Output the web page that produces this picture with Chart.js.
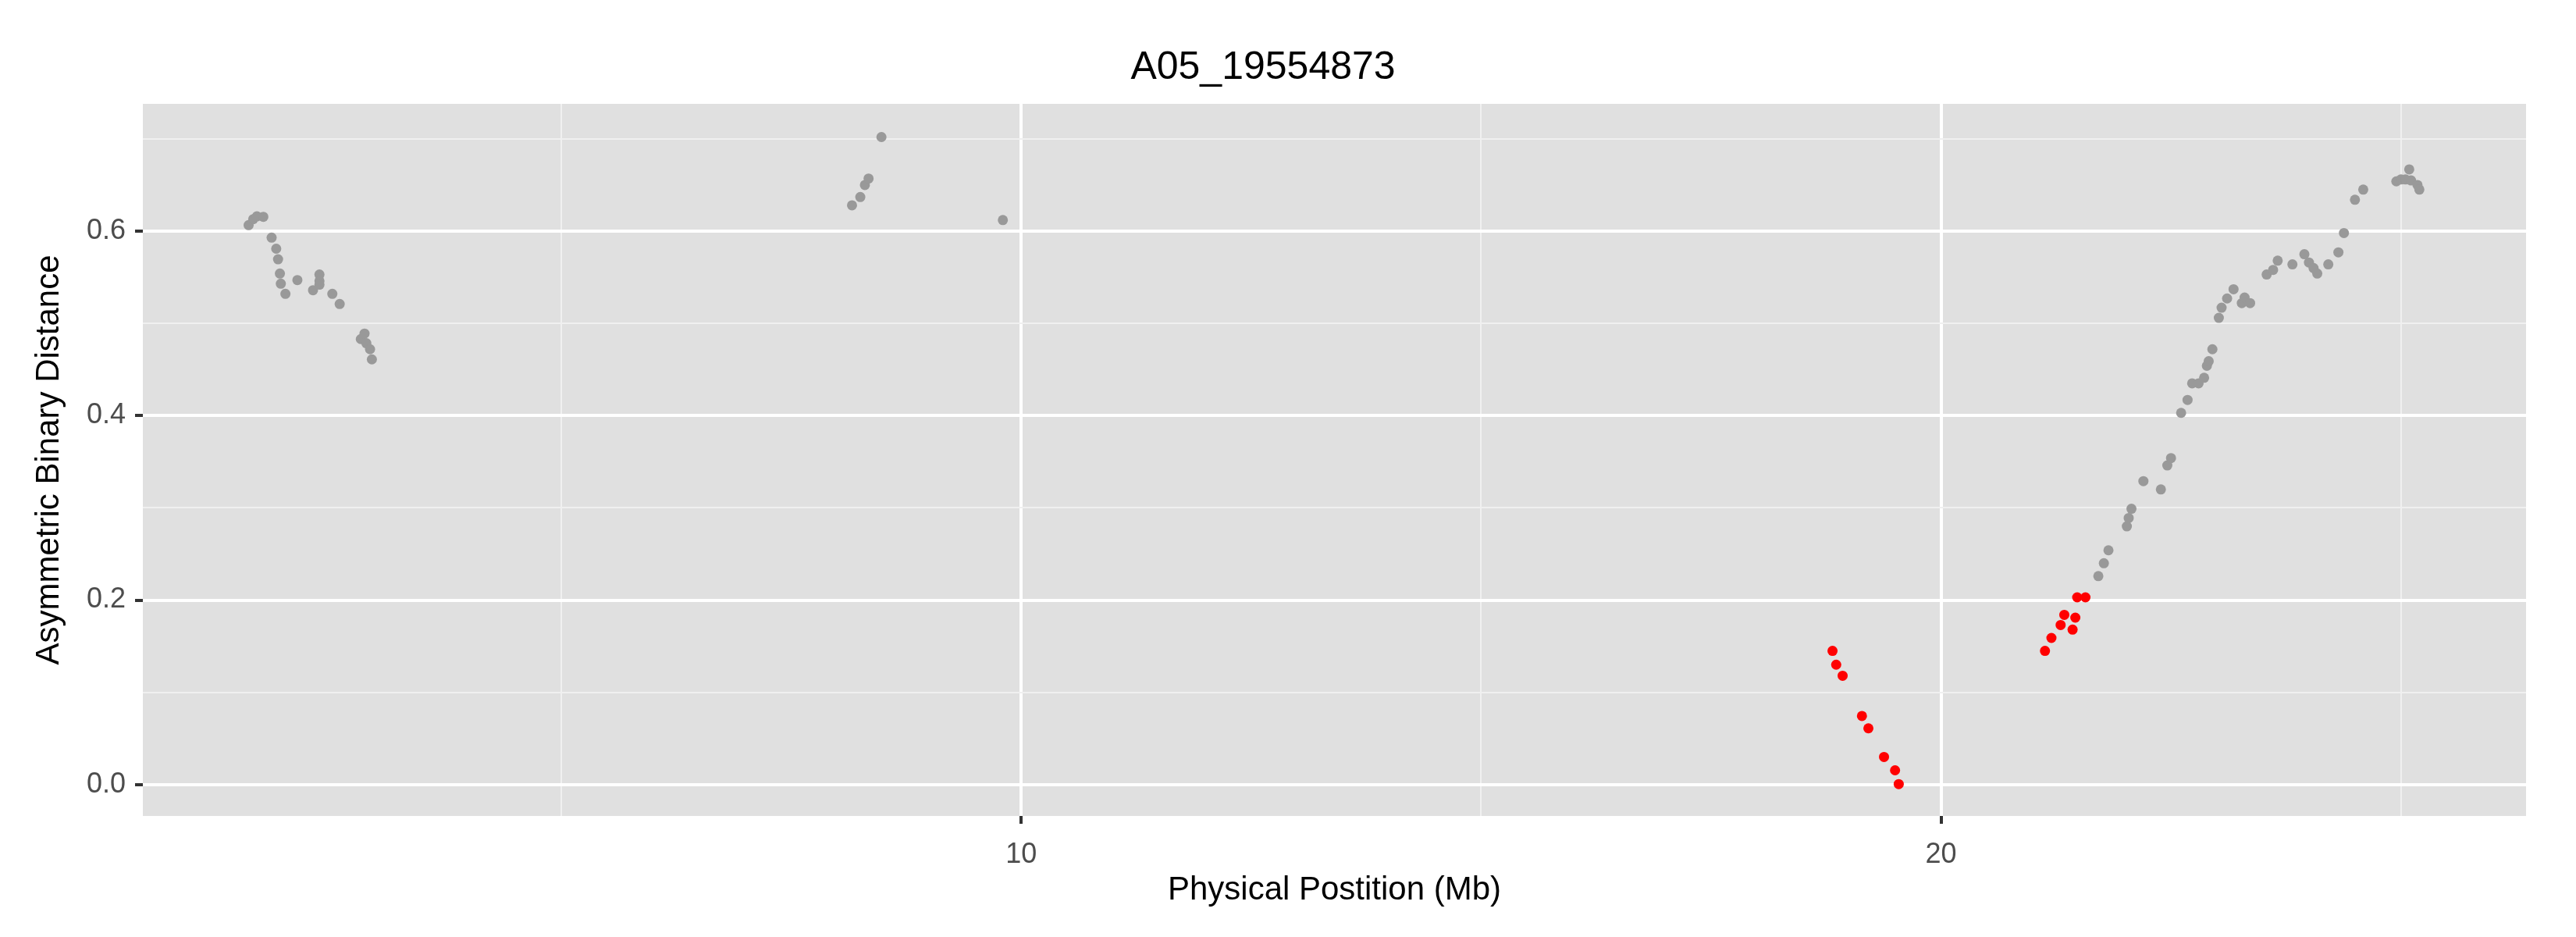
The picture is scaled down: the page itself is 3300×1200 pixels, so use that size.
<!DOCTYPE html>
<html>
<head>
<meta charset="utf-8">
<script src="https://cdn.jsdelivr.net/npm/chart.js@4"></script>
<style>
  html, body { margin: 0; padding: 0; background: #fff; }
  #wrap { width: 3300px; height: 1200px; }
</style>
</head>
<body>
<div id="wrap"><canvas id="chart" width="3300" height="1200"></canvas></div>
<script>
// positions in Mb, distance values
const grayX = [1.60, 1.65, 1.69, 1.76, 1.85, 1.90, 1.92, 1.94, 1.95, 2.00, 2.13, 2.30, 2.37, 2.37, 2.37, 2.51, 2.59, 2.82, 2.86, 2.88, 2.92, 2.94,
  8.16, 8.25, 8.30, 8.34, 8.48, 9.80,
  21.71, 21.77, 21.82, 22.02, 22.04, 22.07, 22.20, 22.39, 22.46, 22.50, 22.61, 22.68, 22.73, 22.80, 22.86, 22.89, 22.91, 22.95,
  23.02, 23.05, 23.11, 23.18, 23.27, 23.30, 23.36, 23.54, 23.61, 23.66, 23.82, 23.95, 24.00, 24.05, 24.09, 24.21, 24.32, 24.38,
  24.50, 24.59, 24.95, 25.00, 25.05, 25.09, 25.11, 25.18, 25.20];
const grayY = [0.6065, 0.613, 0.616, 0.6155, 0.593, 0.581, 0.5695, 0.554, 0.543, 0.532, 0.547, 0.536, 0.553, 0.546, 0.542, 0.532, 0.521, 0.483, 0.489, 0.4785, 0.472, 0.461,
  0.628, 0.637, 0.650, 0.657, 0.702, 0.612,
  0.226, 0.240, 0.254, 0.280, 0.289, 0.299, 0.329, 0.320, 0.346, 0.354, 0.403, 0.417, 0.435, 0.435, 0.441, 0.454, 0.459, 0.472,
  0.506, 0.517, 0.527, 0.537, 0.522, 0.528, 0.522, 0.553, 0.558, 0.568, 0.564, 0.575, 0.566, 0.560, 0.554, 0.564, 0.577, 0.598,
  0.634, 0.645, 0.654, 0.656, 0.656, 0.667, 0.655, 0.650, 0.645];
const redX = [18.82, 18.86, 18.93, 19.14, 19.21, 19.38, 19.50, 19.54,
  21.13, 21.20, 21.30, 21.34, 21.43, 21.46, 21.48, 21.57];
const redY = [0.145, 0.130, 0.118, 0.0744, 0.061, 0.030, 0.0155, 0.0006,
  0.145, 0.159, 0.173, 0.184, 0.168, 0.181, 0.203, 0.203];
const xTicks = [5, 10, 15, 20, 25];
const xLabels = [10, 20];
const yTicks = [0, 0.1, 0.2, 0.3, 0.4, 0.5, 0.6, 0.7];
const yLabels = [0, 0.2, 0.4, 0.6];

const toPoints = (xs, ys) => xs.map((x, i) => ({ x: x, y: ys[i] }));
const isMajor = (list, v) => list.some(t => Math.abs(t - v) < 1e-9);

const panelBg = {
    id: 'panelBg',
    beforeDraw(chart) {
        const a = chart.chartArea;
        const ctx = chart.ctx;
        ctx.save();
        ctx.fillStyle = '#E0E0E0';
        ctx.fillRect(a.left, a.top, a.right - a.left, a.bottom - a.top);
        ctx.restore();
    }
};

new Chart(document.getElementById('chart'), {
    type: 'scatter',
    data: {
        datasets: [
            { data: toPoints(grayX, grayY), backgroundColor: '#999999', borderWidth: 0, pointRadius: 6.5 },
            { data: toPoints(redX, redY), backgroundColor: '#FF0000', borderWidth: 0, pointRadius: 6.5 }
        ]
    },
    options: {
        responsive: false,
        devicePixelRatio: 1,
        animation: false,
        layout: { padding: { left: 0, right: 64, top: 0, bottom: 0 } },
        plugins: {
            legend: { display: false },
            tooltip: { enabled: false },
            title: {
                display: true,
                text: 'A05_19554873',
                color: '#000',
                font: { family: 'Liberation Sans', size: 50, weight: 'normal' },
                padding: { top: 57, bottom: 16 }
            }
        },
        scales: {
            x: {
                type: 'linear',
                min: 0.45,
                max: 26.36,
                afterBuildTicks: scale => { scale.ticks = xTicks.map(v => ({ value: v })); },
                afterFit: scale => { scale.height = 155; },
                border: { display: false },
                grid: {
                    color: ctx => isMajor(xLabels, ctx.tick.value) ? '#FFFFFF' : '#F0F0F0',
                    lineWidth: ctx => isMajor(xLabels, ctx.tick.value) ? 4 : 2,
                    tickColor: ctx => isMajor(xLabels, ctx.tick.value) ? '#333333' : 'rgba(0,0,0,0)',
                    tickLength: 10,
                    drawOnChartArea: true
                },
                ticks: {
                    color: '#4D4D4D',
                    padding: 18,
                    font: { family: 'Liberation Sans', size: 36 },
                    callback: v => isMajor(xLabels, v) ? String(v) : ''
                },
                title: {
                    display: true,
                    text: 'Physical Postition (Mb)',
                    color: '#000',
                    font: { family: 'Liberation Sans', size: 42 },
                    padding: { top: 0, bottom: 34 }
                }
            },
            y: {
                min: -0.034,
                max: 0.738,
                afterBuildTicks: scale => { scale.ticks = yTicks.map(v => ({ value: v })); },
                afterFit: scale => { scale.width = 183; },
                border: { display: false },
                grid: {
                    color: ctx => isMajor(yLabels, ctx.tick.value) ? '#FFFFFF' : '#F0F0F0',
                    lineWidth: ctx => isMajor(yLabels, ctx.tick.value) ? 4 : 2,
                    tickColor: ctx => isMajor(yLabels, ctx.tick.value) ? '#333333' : 'rgba(0,0,0,0)',
                    tickLength: 10
                },
                ticks: {
                    color: '#4D4D4D',
                    padding: 12,
                    font: { family: 'Liberation Sans', size: 36 },
                    callback: v => isMajor(yLabels, v) ? v.toFixed(1) : ''
                },
                title: {
                    display: true,
                    text: 'Asymmetric Binary Distance',
                    color: '#000',
                    font: { family: 'Liberation Sans', size: 42 },
                    padding: { top: 38, bottom: 0 }
                }
            }
        }
    },
    plugins: [panelBg]
});
</script>
</body>
</html>
